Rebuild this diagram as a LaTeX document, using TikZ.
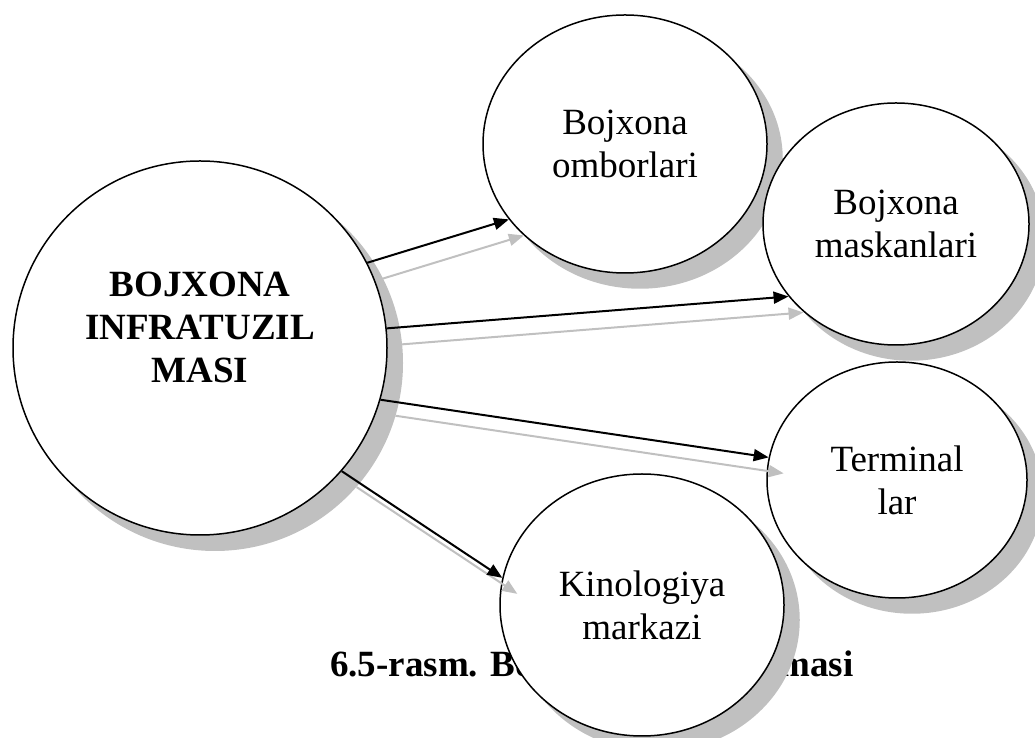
\documentclass[tikz,border=0pt]{standalone}
\usepackage{fontspec}
\setmainfont{Liberation Serif}
\usetikzlibrary{shapes.geometric,arrows.meta}
\definecolor{shadowgray}{RGB}{192,192,192}
\tikzset{
  bubble/.style={ellipse, draw=black, line width=1.5pt, fill=white, inner sep=0pt,
    align=center, font=\fontsize{37}{43}\selectfont},
  shade/.style={fill=shadowgray},
  link/.style={line width=2pt, draw=black, -{Triangle[length=15pt,width=12pt]}},
  linkshadow/.style={line width=2pt, draw=shadowgray, -{Triangle[length=15pt,width=12pt]}},
}
\begin{document}
\begin{tikzpicture}[x=1pt,y=1pt]
\useasboundingbox (0,0) rectangle (1035,738);
% caption (partly hidden behind a circle)
\node[anchor=base west, inner sep=0pt, font=\fontsize{37}{43}\selectfont\bfseries] (caption) at (330,61) {6.5-rasm. Bojxona infratuzilmasi};
% shadows of the circles
\fill[shade] (215,375) circle [radius=188pt];
\fill[shade] (640,579) ellipse [x radius=142.75pt, y radius=129.75pt];
\fill[shade] (911,499) ellipse [x radius=133.75pt, y radius=121.75pt];
\fill[shade] (912,243) ellipse [x radius=130.75pt, y radius=118.75pt];
\fill[shade] (657,118) ellipse [x radius=142.75pt, y radius=131.75pt];
% circles
\node[bubble, minimum width=374pt, minimum height=374pt] (big) at (200,390) {};
\node[align=center, inner sep=0pt, font=\fontsize{37}{43}\selectfont\bfseries] (bigtext) at (200,410.5) {BOJXONA\\INFRATUZIL\\MASI};
\node[bubble, minimum width=284pt, minimum height=258pt] (omb) at (625,594) {Bojxona\\omborlari};
\node[bubble, minimum width=266pt, minimum height=242pt] (mas) at (896,514) {Bojxona\\maskanlari};
\node[bubble, minimum width=260pt, minimum height=236pt] (ter) at (897,258) {Terminal\\lar};
\node[bubble, minimum width=284pt, minimum height=262pt] (kin) at (642,133) {Kinologiya\\markazi};
% connector shadows
\begin{scope}[transform canvas={xshift=15pt,yshift=-16pt}]
\draw[linkshadow] (big.27.2) -- (omb.213.8);
\draw[linkshadow] (big.6.1) -- (mas.214.6);
\draw[linkshadow] (big.-16.7) -- (ter.170);
\draw[linkshadow] (big.-41.5) -- (kin.169.1);
\end{scope}
% connectors
\draw[link] (big.27.2) -- (omb.213.8);
\draw[link] (big.6.1) -- (mas.214.6);
\draw[link] (big.-16.7) -- (ter.170);
\draw[link] (big.-41.5) -- (kin.169.1);
\end{tikzpicture}
\end{document}
